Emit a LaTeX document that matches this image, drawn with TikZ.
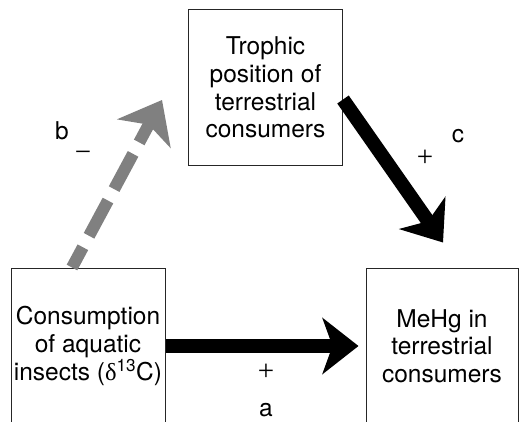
\documentclass[tikz,border=0pt]{standalone}
\usepackage{fontspec}
\setmainfont{TeX Gyre Heros}
\newfontfamily\signfont{Liberation Serif}
\usetikzlibrary{arrows.meta}
\definecolor{pathgray}{RGB}{128,128,128}

\begin{document}
\begin{tikzpicture}[x=1pt,y=-1pt,
    box/.style={draw=black!85, line width=1pt, minimum width=154pt, minimum height=156pt,
        inner sep=0pt, align=center, font=\fontsize{24.5}{27.7}\selectfont},
    letter/.style={inner sep=0pt, font=\fontsize{24.5}{27.7}\selectfont},
    sign/.style={inner sep=0pt, font=\fontsize{29}{32}\signfont},
    bold path/.style={line width=14pt, -{Stealth[length=36pt,width=56pt,inset=10pt]}}]
    \useasboundingbox (0,0) rectangle (519,421);

    % Draw the three boxes
    \node[box] (trophic) at (265.5,87.5) {Trophic\\position of\\terrestrial\\consumers};
    \node[box] (insects) at (88,346) {Consumption\\of aquatic\\insects ({\signfont δ}\textsuperscript{13}C)};
    \node[box, minimum width=152pt] (mehg) at (442,346) {MeHg in\\terrestrial\\consumers};

    % Path b (dashed, negative)
    \coordinate (bstart) at ([xshift=-16pt]insects.north);
    \coordinate (btip) at ([xshift=-26pt,yshift=-12.5pt]trophic.west);
    \draw[pathgray, line width=12pt, dash pattern=on 40pt off 13pt, dash phase=17pt,
        -{Stealth[length=38pt,width=60pt,inset=10pt]}] (bstart) -- (btip);
    \node[letter] (blabel) at (62,131) {b};
    \node[sign] (bsign) at (83,156) {−};

    % Path c (positive)
    \coordinate (cstart) at ([yshift=-12pt]trophic.east);
    \coordinate (ctip) at ([xshift=1pt,yshift=25pt]mehg.north);
    \draw[bold path] (cstart) -- (ctip);
    \node[letter] (clabel) at (458,136) {c};
    \node[sign] (csign) at (425,158) {+};

    % Path a (positive)
    \draw[bold path, shorten >=7pt] (insects.east) -- (mehg.west);
    \node[sign] (asign) at (266,372) {+};
    \node[letter] (alabel) at (266,410) {a};
\end{tikzpicture}
\end{document}
